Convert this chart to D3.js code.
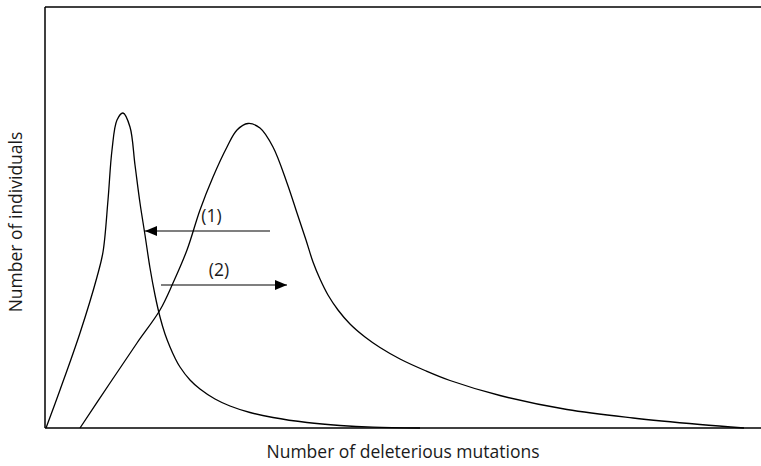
<!DOCTYPE html>
<html>
<head>
<meta charset="utf-8">
<script src="https://cdn.jsdelivr.net/npm/d3@7"></script>
<style>
  html, body { margin: 0; padding: 0; background: #fff; }
  svg { display: block; }
  text { font-family: "Open Sans", "DejaVu Sans", sans-serif; fill: #1a1a1a; }
</style>
</head>
<body>
<svg id="chart" width="761" height="466"></svg>
<script>
// Data (arbitrary units: mutations on x, individuals on y)
const curveBeforeX = [1, 15, 35, 52, 58, 63, 67, 72, 78, 85, 90, 95, 100, 105, 110, 115, 120, 125, 130, 135, 145, 155, 170, 185, 205, 228, 262, 295, 328, 375];
const curveBeforeY = [0, 38, 95, 151, 176, 228, 278, 308, 315, 301, 263, 225, 193, 160, 133, 111, 94, 81, 70, 61, 48, 39, 29, 22, 15.5, 10.5, 5.5, 2.5, 0.8, 0];
const curveAfterX = [35, 65, 92, 115, 128, 142, 155, 168, 182, 192, 203, 215, 228, 242, 252, 261, 268, 275, 283, 293, 305, 320, 335, 355, 380, 405, 455, 522, 588, 655, 699];
const curveAfterY = [0, 45, 85, 118, 145, 178, 218, 251, 281, 298, 304.5, 300, 281, 245, 215, 188, 166, 149, 133, 118, 104, 91, 80.5, 69, 57.5, 47.5, 32.5, 18.5, 10, 3.5, 0];
const arrowLabels = ["(1)", "(2)"];
const arrowFromX = [225, 116];
const arrowToX = [100, 242];
const arrowY = [197, 143];
const xAxisTitle = "Number of deleterious mutations";
const yAxisTitle = "Number of individuals";

const svg = d3.select("#chart");
const W = 761, H = 466;
const margin = { left: 45, right: 0, top: 7, bottom: 38 };

const x = d3.scaleLinear().domain([0, 716]).range([margin.left, W - margin.right]);
const y = d3.scaleLinear().domain([0, 421]).range([H - margin.bottom, margin.top]);

// Frame: left, bottom, top lines
const frame = svg.append("g").attr("stroke", "#000").attr("stroke-width", 1.5).attr("fill", "none");
frame.append("line").attr("x1", x(0)).attr("x2", x(0)).attr("y1", y(0)).attr("y2", y(421));
frame.append("line").attr("x1", x(0)).attr("x2", x(716)).attr("y1", y(0)).attr("y2", y(0));
frame.append("line").attr("x1", x(0)).attr("x2", x(716)).attr("y1", y(421)).attr("y2", y(421));

const line = d3.line().x(d => x(d[0])).y(d => y(d[1])).curve(d3.curveCatmullRom.alpha(0.5));

const d1 = curveBeforeX.map((v, i) => [v, curveBeforeY[i]]);
const d2 = curveAfterX.map((v, i) => [v, curveAfterY[i]]);

svg.append("path").datum(d1).attr("d", line).attr("fill", "none").attr("stroke", "#000").attr("stroke-width", 1.3);
svg.append("path").datum(d2).attr("d", line).attr("fill", "none").attr("stroke", "#000").attr("stroke-width", 1.3);

// Arrows
svg.append("defs").append("marker")
  .attr("id", "head").attr("viewBox", "0 0 12 10").attr("refX", 12).attr("refY", 5)
  .attr("markerWidth", 12).attr("markerHeight", 10).attr("markerUnits", "userSpaceOnUse")
  .attr("orient", "auto")
  .append("path").attr("d", "M0,0 L12,5 L0,10 Z").attr("fill", "#000");

arrowLabels.forEach((lab, i) => {
  svg.append("line")
    .attr("x1", x(arrowFromX[i])).attr("x2", x(arrowToX[i]))
    .attr("y1", y(arrowY[i])).attr("y2", y(arrowY[i]))
    .attr("stroke", "#000").attr("stroke-width", 1.2)
    .attr("marker-end", "url(#head)");
  svg.append("text")
    .attr("x", (x(arrowFromX[i]) + x(arrowToX[i])) / 2 + (i === 0 ? 4 : -5))
    .attr("y", y(arrowY[i]) - 9)
    .attr("text-anchor", "middle")
    .attr("font-size", 17.5)
    .text(lab);
});

// Axis titles
svg.append("text")
  .attr("x", (margin.left + W - margin.right) / 2)
  .attr("y", 458)
  .attr("text-anchor", "middle")
  .attr("font-size", 17.5)
  .text(xAxisTitle);

svg.append("text")
  .attr("transform", `translate(22, 222) rotate(-90)`)
  .attr("text-anchor", "middle")
  .attr("font-size", 17.5)
  .text(yAxisTitle);
</script>
</body>
</html>
